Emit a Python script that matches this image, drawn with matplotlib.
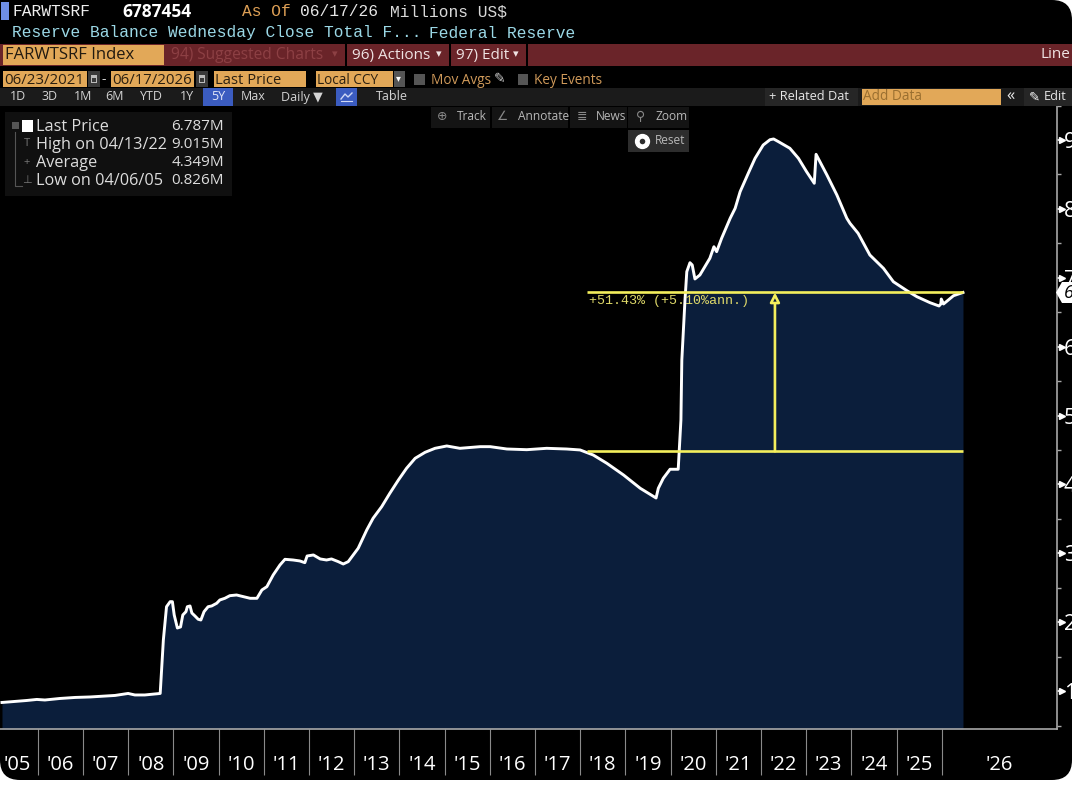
import matplotlib
matplotlib.use('Agg')
import matplotlib.pyplot as plt
from matplotlib.patches import Rectangle, FancyBboxPatch, Polygon

# values, in millions of USD against decimal year
years = [2005.21, 2005.50, 2005.76, 2005.98, 2006.16, 2006.49, 2006.83, 2007.16, 2007.49, 2007.71,
         2008.00, 2008.15, 2008.37, 2008.60, 2008.71, 2008.78, 2008.85, 2008.93, 2008.98, 2009.02,
         2009.09, 2009.16, 2009.21, 2009.28, 2009.31, 2009.37, 2009.41, 2009.48, 2009.55, 2009.61,
         2009.68, 2009.77, 2009.85, 2009.96, 2010.03, 2010.14, 2010.25, 2010.40, 2010.55, 2010.70,
         2010.85, 2010.96, 2011.07, 2011.21, 2011.36, 2011.47, 2011.65, 2011.80, 2011.91, 2011.96,
         2012.10, 2012.25, 2012.39, 2012.50, 2012.65, 2012.76, 2012.87, 2012.98, 2013.09, 2013.28,
         2013.42, 2013.61, 2013.79, 2013.98, 2014.16, 2014.35, 2014.57, 2014.79, 2015.05, 2015.34,
         2015.79, 2016.01, 2016.38, 2016.82, 2017.26, 2017.70, 2018.00, 2018.29, 2018.59, 2018.96,
         2019.33, 2019.68, 2019.73, 2019.84, 2019.99, 2020.17, 2020.19, 2020.23, 2020.25, 2020.32,
         2020.36, 2020.43, 2020.48, 2020.54, 2020.65, 2020.87, 2020.96, 2021.02, 2021.13, 2021.32,
         2021.43, 2021.54, 2021.72, 2021.87, 2022.05, 2022.20, 2022.28, 2022.39, 2022.64, 2022.83,
         2023.01, 2023.18, 2023.22, 2023.46, 2023.68, 2023.90, 2023.97, 2024.15, 2024.41, 2024.71,
         2024.93, 2025.23, 2025.45, 2025.74, 2025.94, 2025.98, 2025.99, 2026.04, 2026.26, 2026.47]
reserves = [0.836, 0.851, 0.865, 0.880, 0.872, 0.894, 0.909, 0.916, 0.930, 0.938,
            0.967, 0.945, 0.945, 0.959, 0.967, 1.743, 2.226, 2.299, 2.299, 2.106,
            1.917, 1.932, 2.106, 2.154, 2.226, 2.237, 2.135, 2.091, 2.044, 2.033,
            2.154, 2.226, 2.237, 2.276, 2.324, 2.348, 2.386, 2.396, 2.372, 2.348,
            2.348, 2.469, 2.517, 2.687, 2.832, 2.914, 2.904, 2.890, 2.865, 2.962,
            2.977, 2.919, 2.904, 2.919, 2.880, 2.846, 2.880, 2.977, 3.074, 3.340,
            3.510, 3.678, 3.872, 4.065, 4.235, 4.380, 4.467, 4.525, 4.559, 4.525,
            4.549, 4.549, 4.515, 4.505, 4.525, 4.515, 4.501, 4.428, 4.308, 4.138,
            3.945, 3.804, 3.945, 4.090, 4.221, 4.221, 4.457, 4.936, 5.807, 6.678,
            7.089, 7.219, 7.186, 6.983, 7.041, 7.283, 7.451, 7.379, 7.573, 7.864,
            8.009, 8.250, 8.517, 8.734, 8.927, 9.004, 9.015, 8.975, 8.880, 8.734,
            8.540, 8.372, 8.792, 8.492, 8.202, 7.864, 7.791, 7.646, 7.331, 7.138,
            6.943, 6.813, 6.726, 6.639, 6.591, 6.620, 6.692, 6.620, 6.740, 6.787]

year_ticks = list(range(2006, 2027))
year_label_pos = [2005.55, 2006.5, 2007.5, 2008.5, 2009.5, 2010.5, 2011.5, 2012.5, 2013.5, 2014.5,
                  2015.5, 2016.5, 2017.5, 2018.5, 2019.5, 2020.5, 2021.5, 2022.5, 2023.5, 2024.5,
                  2025.5, 2027.26]
year_labels = ["'05", "'06", "'07", "'08", "'09", "'10", "'11", "'12", "'13", "'14", "'15",
               "'16", "'17", "'18", "'19", "'20", "'21", "'22", "'23", "'24", "'25", "'26"]
value_ticks = [1, 2, 3, 4, 5, 6, 7, 8, 9]
minor_ticks = [0.5, 1.5, 2.5, 3.5, 4.5, 5.5, 6.5, 7.5, 8.5, 9.5]

base_level = 4.482
last_level = 6.787
range_start = 2018.15
range_end = 2026.47
arrow_year = 2022.31

legend_names = ['Last Price', 'High on 04/13/22', 'Average', 'Low on 04/06/05']
legend_values = ['6.787M', '9.015M', '4.349M', '0.826M']

NAVY = '#0b1e3b'
YELLOW = '#f4ef5c'
ORANGE = '#e2a858'
MAROON = '#6a2429'
STRIP = '#1b1b1b'
MONO = 'Liberation Mono'
SANS = ['Open Sans', 'DejaVu Sans']

fig = plt.figure(figsize=(10.72, 7.85), dpi=100, facecolor='white')


def pixel_axes(z):
    a = fig.add_axes([0, 0, 1, 1], zorder=z)
    a.set_xlim(0, 1072)
    a.set_ylim(785, 0)
    a.axis('off')
    return a


back = pixel_axes(0)
ui = pixel_axes(3)

# black screen with round corners, top left stays square
back.add_patch(FancyBboxPatch((18, 18), 1036, 744, boxstyle='round,pad=18,rounding_size=20',
                              fc='black', ec='none'))
back.add_patch(Rectangle((0, 0), 1000, 60, fc='black', ec='none'))


def box(x0, y0, x1, y1, color, target=ui):
    target.add_patch(Rectangle((x0, y0), x1 - x0, y1 - y0, fc=color, ec='none'))


def label(x, y, s, color='#d8d8d8', size=9.5, family=SANS, ha='left', **kw):
    ui.text(x, y, s, color=color, fontsize=size, family=family, ha=ha, va='center', **kw)


# chart
ax = fig.add_axes([0, 56 / 785, 1057 / 1072, 624 / 785], zorder=1)
ax.patch.set_alpha(0)
ax.set_xlim(2005.166, 2028.55)
ax.set_ylim(0.451, 9.508)
ax.fill_between(years, reserves, 0.451, color=NAVY, lw=0)
ax.plot(years, reserves, color='white', lw=2.1, solid_joinstyle='round')

ax.hlines([base_level], range_start, range_end, color=YELLOW, lw=1.9, zorder=4)
ax.hlines([last_level], range_start, range_end, color=YELLOW, lw=1.9, zorder=4)
ax.annotate('', xy=(arrow_year, last_level), xytext=(arrow_year, base_level),
            arrowprops=dict(arrowstyle='-|>,head_length=0.55,head_width=0.28', fc=NAVY, ec=YELLOW,
                            lw=1.9, shrinkA=0, shrinkB=0), zorder=5)
ax.text(range_start + 0.05, last_level - 0.13, '+51.43% (+5.10%ann.)', color='#e0da6a', fontsize=9.6,
        family=MONO, va='center', ha='left', zorder=5)

for side in ['top', 'left']:
    ax.spines[side].set_visible(False)
for side in ['bottom', 'right']:
    ax.spines[side].set_color('#a8a8a8')
    ax.spines[side].set_linewidth(1.2)

ax.yaxis.tick_right()
ax.set_yticks(value_ticks)
ax.set_yticks(minor_ticks, minor=True)
ax.tick_params(axis='y', which='major', length=4, width=1.2, color='white', labelcolor='white',
               labelsize=15.5, pad=1)
ax.tick_params(axis='y', which='minor', length=3, width=1, color='#a8a8a8')
ax.plot([1.0045] * len(value_ticks), value_ticks, ls='none', marker='>', ms=5, color='white',
        transform=ax.get_yaxis_transform(), clip_on=False)
for t in ax.get_yticklabels():
    t.set_family(SANS)

ax.set_xticks(year_ticks)
ax.set_xticklabels([])
ax.set_xticks(year_label_pos, minor=True)
ax.set_xticklabels(year_labels, minor=True, color='white', fontsize=14.5, family=SANS)
ax.tick_params(axis='x', which='major', length=33, width=0.8, color='#8a8a8a')
ax.tick_params(axis='x', which='minor', length=0, pad=18.5)

# header lines
box(1, 2, 9, 20, '#6f8fe6')
label(13, 12, 'FARWTSRF', color='#eeeeee', size=11.7, family=MONO)
label(122, 12, '6787454', color='white', size=12.5, family=SANS, fontweight='bold')
label(242, 12, 'As Of', color='#dd9f55', size=11.7, family=MONO)
label(300, 12, '06/17/26', color='#e6e6e6', size=11.7, family=MONO)
label(390, 12, 'Millions US$', color='#d8d8d8', size=11.7, family=MONO)
label(12, 33, 'Reserve Balance Wednesday Close Total F...', color='#9bd8e6', size=11.7, family=MONO)
label(429, 33, 'Federal Reserve', color='#9bd8e6', size=11.7, family=MONO)

# maroon menu bar
box(0, 44, 1072, 66, MAROON)
box(3, 45, 164, 65, ORANGE)
label(5, 55, 'FARWTSRF Index', color='#221a10', size=12, family=SANS)
label(171, 55, '94) Suggested Charts', color='#8d4044', size=11.2)
label(332, 55, '▾', color='#8d4044', size=8)
label(352, 55, '96) Actions', color='#efe3e3', size=11)
label(436, 55, '▾', color='#efe3e3', size=8)
label(456, 55, '97) Edit', color='#efe3e3', size=11)
label(513, 55, '▾', color='#efe3e3', size=8)
for sep_x in [345, 449, 526]:
    box(sep_x, 44, sep_x + 1.5, 66, 'black')
label(1041, 55, 'Line', color='#efe3e3', size=11)

# date row
for x0, x1, text, size in [(3, 87, '06/23/2021', 10.8), (111, 194, '06/17/2026', 10.8),
                           (214, 306, 'Last Price', 10.6), (316, 393, 'Local CCY', 9.8)]:
    box(x0, 71, x1, 87, ORANGE)
    label(x0 + 1, 80, text, color='#2a1f10', size=size)
for x0 in [88, 196]:
    box(x0, 71, x0 + 12, 87, '#3a3a3a')
    box(x0 + 3, 75, x0 + 9, 83, '#bbbbbb')
    box(x0 + 4, 77.5, x0 + 8, 81.5, '#3a3a3a')
label(102, 80, '-', color='#cccccc', size=10)
box(394, 71, 405, 87, '#555555')
label(396, 79, '▾', color='white', size=7)
box(414, 74, 425, 85, '#555555')
label(431, 80, 'Mov Avgs', color='#d09a5a', size=9.8)
label(494, 79, '✎', color='#cccccc', size=10, family=['DejaVu Sans'])
box(518, 74, 528, 85, '#555555')
label(534, 80, 'Key Events', color='#d09a5a', size=9.8)

# range buttons
box(0, 88, 1072, 106, STRIP)
for x_mid, text in [(18, '1D'), (50, '3D'), (83, '1M'), (115, '6M'), (151, 'YTD'), (187, '1Y'),
                    (253, 'Max'), (302, 'Daily ▼'), (392, 'Table')]:
    label(x_mid, 97, text, color='#d4d4d4', size=9, ha='center')
box(203, 88, 233, 106, '#3b5cc0')
label(218, 97, '5Y', color='#e4e8f8', size=9, ha='center')
box(336, 88, 357, 106, '#3b5cc0')
ui.plot([341, 345, 348, 352], [99, 94, 97, 93], color='#cfd8f5', lw=1)
ui.plot([341, 352], [101, 101], color='#cfd8f5', lw=0.8)
box(765, 88, 858, 106, '#262626')
label(769, 97, '+ Related Dat', color='#e6e6e6', size=9.2)
box(862, 89, 1001, 105, ORANGE)
label(863, 97, 'Add Data', color='#9a6f30', size=9.8)
label(1006, 96, '«', color='#e6e6e6', size=12)
box(1024, 88, 1072, 106, '#262626')
label(1029, 97, '✎', color='white', size=9.5, family=['DejaVu Sans'])
label(1044, 97, 'Edit', color='#e6e6e6', size=9.2)

# chart tools
for x0, x1 in [(431, 490), (492, 568), (570, 627), (628, 689)]:
    box(x0, 107, x1, 128, '#141414')
box(628, 130, 689, 152, '#2d2d2d')
for x0, icon, x_txt, text in [(437, '⊕', 457, 'Track'), (497, '∠', 518, 'Annotate'),
                              (577, '≣', 596, 'News'), (636, '⚲', 656, 'Zoom')]:
    label(x0, 117, icon, color='#888888', size=9, family=['DejaVu Sans'])
    label(x_txt, 117, text, color='#b8b8b8', size=8.6)
ui.plot([641.5], [141], marker='o', ms=10, mfc='white', mec='white', ls='none')
ui.plot([641.5], [141], marker='o', ms=4, mfc='#2d2d2d', mec='none', ls='none')
label(655, 141, 'Reset', color='#b8b8b8', size=8.6)

# stats legend
box(5, 112, 232, 196, '#101010')
legend_y = [127, 145, 163, 181]
for y, name, value in zip(legend_y, legend_names, legend_values):
    label(36, y, name, color='#dddddd', size=11.7)
    label(224, y, value, color='#dddddd', size=11, ha='right')
box(22, 120, 33, 132, 'white')
label(27, 144, 'T', color='#777777', size=8, ha='center')
label(27, 162, '+', color='#777777', size=8, ha='center')
label(27, 180, '⊥', color='#777777', size=8, ha='center', family=['DejaVu Sans'])
ui.plot([15, 15, 22], [132, 186, 186], color='#555555', lw=0.8)
box(12, 122, 19, 129, '#555555')

# last price tag on the axis
ui.add_patch(Polygon([(1056, 292.5), (1062, 282), (1072, 282), (1072, 303), (1062, 303)],
                     fc='white', ec='none'))
label(1064, 292.5, '6.787', color='black', size=13, fontstyle='italic')

fig.savefig('out.png', dpi=100, facecolor='white')
